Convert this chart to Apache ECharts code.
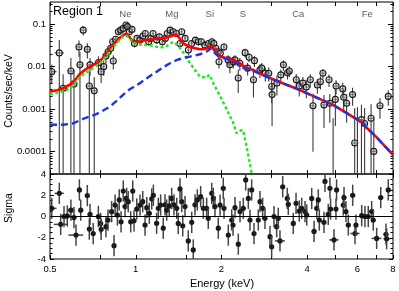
<!DOCTYPE html>
<html><head><meta charset="utf-8">
<script src="https://cdn.jsdelivr.net/npm/echarts@6/dist/echarts.min.js"></script>
<style>html,body{margin:0;padding:0;background:#fff}#c{width:399px;height:291px}</style>
</head><body><div id="c"></div>
<script>
// ---------- data ----------
// spectrum points: [energy keV, half bin width keV, counts/sec/keV, 1-sigma error]
const spectrumPoints = [
[0.507,0.02,0.0076,0.0035],[0.539,0.02,0.021,0.021],[0.556,0.02,0.0031,0.0035],[0.592,0.015,0.0079,0.008],
[0.607,0.015,0.0039,0.0045],[0.632,0.015,0.029,0.012],[0.637,0.015,0.011,0.011],[0.654,0.015,0.072,0.018],
[0.676,0.012,0.0255,0.01],[0.687,0.012,0.0035,0.004],[0.691,0.012,0.011,0.005],[0.715,0.012,0.0027,0.003],
[0.740,0.012,0.0124,0.005],[0.756,0.01,0.0076,0.0035],[0.772,0.01,0.010,0.004],[0.786,0.01,0.0178,0.006],
[0.800,0.01,0.0224,0.006],[0.817,0.01,0.027,0.007],[0.830,0.01,0.0385,0.008],[0.834,0.01,0.0136,0.005],
[0.850,0.01,0.044,0.008],[0.869,0.01,0.066,0.01],[0.885,0.01,0.072,0.01],[0.904,0.01,0.079,0.011],
[0.924,0.01,0.095,0.012],[0.935,0.01,0.087,0.012],[0.950,0.01,0.066,0.01],[0.970,0.01,0.075,0.011],
[0.990,0.01,0.035,0.007],[1.010,0.01,0.046,0.008],[1.035,0.01,0.042,0.007],[1.060,0.01,0.052,0.008],
[1.080,0.01,0.060,0.009],[1.110,0.01,0.0385,0.007],[1.130,0.01,0.046,0.008],[1.150,0.01,0.060,0.009],
[1.184,0.012,0.042,0.007],[1.210,0.012,0.050,0.008],[1.240,0.012,0.0385,0.007],[1.270,0.012,0.046,0.008],
[1.290,0.012,0.060,0.009],[1.320,0.012,0.072,0.01],[1.355,0.012,0.066,0.01],[1.390,0.012,0.060,0.009],
[1.430,0.012,0.035,0.007],[1.450,0.012,0.066,0.01],[1.490,0.014,0.046,0.008],[1.530,0.014,0.0246,0.006],
[1.570,0.014,0.035,0.007],[1.620,0.014,0.042,0.007],[1.660,0.014,0.0385,0.007],[1.700,0.015,0.0385,0.007],
[1.750,0.015,0.032,0.006],[1.800,0.015,0.035,0.006],[1.850,0.015,0.0385,0.007],[1.880,0.015,0.035,0.006],
[1.910,0.016,0.027,0.005],[1.950,0.016,0.0224,0.005],[1.960,0.016,0.013,0.004],[1.980,0.016,0.0206,0.005],
[2.040,0.02,0.029,0.006],[2.110,0.02,0.0144,0.004],[2.140,0.02,0.011,0.004],[2.200,0.02,0.013,0.004],
[2.230,0.02,0.0144,0.004],[2.290,0.025,0.0054,0.003],[2.320,0.025,0.012,0.004],[2.420,0.025,0.0213,0.005],
[2.470,0.025,0.0092,0.003],[2.500,0.025,0.0166,0.004],[2.590,0.03,0.0049,0.003],[2.610,0.03,0.0138,0.004],
[2.730,0.03,0.0084,0.003],[2.770,0.03,0.0092,0.003],[2.850,0.03,0.007,0.0025],[2.930,0.04,0.007,0.0025],
[3.000,0.04,0.0034,0.002],[3.010,0.04,0.0022,0.0018],[3.130,0.04,0.0041,0.002],[3.230,0.05,0.0064,0.0022],
[3.300,0.05,0.011,0.003],[3.410,0.05,0.0072,0.0022],[3.460,0.05,0.0079,0.0023],[3.660,0.05,0.0049,0.0018],
[3.750,0.05,0.0035,0.0015],[3.860,0.05,0.0041,0.0016],[3.970,0.05,0.0033,0.0015],[4.100,0.06,0.0049,0.0017],
[4.190,0.06,0.0012,0.0011],[4.340,0.06,0.0037,0.0014],[4.450,0.06,0.0044,0.0015],[4.540,0.07,0.007,0.0018],
[4.580,0.07,0.00126,0.0009],[4.770,0.07,0.0049,0.0016],[4.800,0.07,0.00138,0.0009],[4.930,0.08,0.00001,0.0006],
[5.020,0.08,0.0017,0.0013],[5.050,0.08,0.0035,0.0013],[5.330,0.08,0.003,0.0012],[5.370,0.08,0.0019,0.001],
[5.500,0.1,0.00138,0.0009],[5.770,0.1,0.0022,0.001],[5.870,0.1,0.00016,0.0009],[6.000,0.1,0.00001,0.0011],
[6.200,0.1,0.00057,0.0007],[6.360,0.1,0.00046,0.0006],[6.700,0.12,0.00061,0.0007],[6.850,0.12,0.000102,0.0005],
[7.200,0.15,0.0012,0.0006],[7.700,0.15,0.002,0.0008]
];
// residuals: [energy keV, half bin width keV, sigma]
const residualPoints = [
[0.507,0.02,0.77],[0.539,0.02,2.18],[0.545,0.029,-0.74],[0.560,0.015,0.0],[0.575,0.015,0.05],[0.592,0.015,0.6],
[0.607,0.012,-0.1],[0.617,0.037,-1.75],[0.634,0.012,2.5],[0.641,0.012,0.6],[0.676,0.012,1.97],[0.687,0.012,-1.18],
[0.691,0.012,0.2],[0.709,0.012,-1.6],[0.739,0.012,0.0],[0.753,0.01,-0.65],[0.756,0.01,-1.2],[0.786,0.01,-0.96],
[0.799,0.01,-0.33],[0.823,0.01,0.45],[0.839,0.01,-2.75],[0.846,0.01,1.08],[0.862,0.01,0.14],[0.875,0.01,1.56],
[0.888,0.01,-0.5],[0.904,0.01,2.4],[0.917,0.01,0.93],[0.929,0.01,1.7],[0.941,0.01,1.4],[0.960,0.01,-0.5],
[0.976,0.01,2.4],[0.986,0.01,-0.4],[1.008,0.01,0.7],[1.035,0.01,1.08],[1.058,0.01,1.4],[1.078,0.01,-0.8],
[1.093,0.01,0.83],[1.116,0.01,0.3],[1.138,0.01,1.65],[1.153,0.01,2.0],[1.184,0.012,-0.64],[1.200,0.012,0.77],
[1.223,0.012,1.08],[1.249,0.012,-1.1],[1.267,0.012,1.1],[1.284,0.012,0.6],[1.311,0.012,1.0],[1.337,0.012,1.7],
[1.362,0.012,1.1],[1.393,0.012,0.77],[1.410,0.012,-0.65],[1.430,0.012,2.6],[1.450,0.012,1.4],[1.462,0.012,-0.87],
[1.489,0.014,0.93],[1.529,0.014,-2.3],[1.572,0.014,-0.55],[1.592,0.014,-3.15],[1.614,0.014,1.1],[1.645,0.014,1.56],
[1.690,0.014,1.87],[1.727,0.015,0.77],[1.774,0.015,0.77],[1.797,0.015,-0.17],[1.848,0.015,2.18],[1.872,0.015,1.7],
[1.897,0.015,0.93],[1.949,0.016,-1.1],[1.977,0.016,1.08],[2.029,0.02,2.66],[2.041,0.02,0.77],[2.113,0.02,-1.75],
[2.172,0.02,-0.33],[2.195,0.02,-0.8],[2.231,0.02,0.83],[2.291,0.025,-2.6],[2.323,0.025,0.46],[2.386,0.025,0.77],
[2.432,0.025,3.44],[2.484,0.025,1.7],[2.518,0.025,-0.33],[2.553,0.025,2.5],[2.601,0.03,-1.6],[2.693,0.03,-0.33],
[2.730,0.03,1.4],[2.789,0.03,0.77],[2.842,0.03,-0.17],[2.960,0.04,-1.9],[3.000,0.04,-2.85],[3.057,0.04,0.0],
[3.124,0.04,-0.96],[3.165,0.04,-0.17],[3.209,0.13,-2.3],[3.280,0.05,2.8],[3.404,0.05,1.7],[3.432,0.05,1.15],
[3.573,0.05,-0.65],[3.653,0.05,1.24],[3.750,0.05,0.52],[3.824,0.05,0.77],[3.929,0.05,0.46],[3.983,0.05,0.14],
[4.147,0.06,1.7],[4.226,0.08,-1.4],[4.318,0.06,0.77],[4.374,0.06,1.56],[4.410,0.06,-0.33],[4.579,0.07,-0.55],
[4.617,0.07,3.3],[4.740,0.07,0.2],[4.806,0.07,2.66],[4.830,0.07,0.7],[4.965,0.19,-2.2],[5.045,0.08,0.7],
[5.070,0.08,2.5],[5.352,0.08,1.08],[5.385,0.08,1.78],[5.470,0.08,0.46],[5.574,0.1,-0.8],[5.776,0.1,2.0],
[5.885,0.22,-1.6],[5.930,0.1,-0.8],[6.212,0.1,0.08],[6.378,0.1,0.0],[6.550,0.1,0.0],[6.733,0.12,0.46],
[6.820,0.12,-0.33],[7.010,0.28,-2.06],[7.245,0.15,1.78],[7.560,0.15,-1.67],[7.600,0.2,-2.1],[7.700,0.15,2.5]
];
// model curves: [energy keV, counts/sec/keV]
const totalModel = [
[0.50,0.0026],[0.53,0.0028],[0.556,0.0031],[0.588,0.0038],[0.615,0.005],[0.637,0.0068],[0.665,0.0085],[0.691,0.010],
[0.72,0.0118],[0.749,0.0135],[0.78,0.018],[0.80,0.023],[0.82,0.030],[0.85,0.038],[0.87,0.045],[0.90,0.053],
[0.922,0.060],[0.94,0.055],[0.96,0.045],[0.98,0.0395],[1.00,0.038],[1.035,0.0385],[1.08,0.042],[1.12,0.044],
[1.17,0.045],[1.22,0.046],[1.27,0.048],[1.32,0.051],[1.36,0.055],[1.39,0.056],[1.42,0.048],[1.45,0.038],
[1.48,0.034],[1.55,0.029],[1.62,0.027],[1.68,0.0255],[1.75,0.026],[1.82,0.029],[1.86,0.030],[1.90,0.023],
[1.95,0.019],[2.0,0.017],[2.1,0.0155],[2.2,0.0142],[2.3,0.0125],[2.38,0.0105],[2.45,0.0094],[2.6,0.0082],
[2.88,0.0058],[3.0,0.0052],[3.3,0.0040],[3.6,0.0032],[3.77,0.0028],[4.0,0.00235],[4.5,0.00165],[4.93,0.00126],
[5.5,0.00081],[6.0,0.00057],[6.28,0.00047],[6.45,0.00037],[6.64,0.00031],[7.0,0.00022],[7.5,0.000134],[8.0,0.000085]
];
const thermalModel = [
[0.50,0.0022],[0.572,0.0028],[0.60,0.0035],[0.637,0.0058],[0.70,0.0088],[0.749,0.012],[0.79,0.018],[0.834,0.029],
[0.87,0.040],[0.90,0.050],[0.917,0.055],[0.94,0.050],[0.98,0.036],[1.035,0.033],[1.093,0.032],[1.15,0.031],
[1.217,0.028],[1.28,0.030],[1.355,0.0385],[1.40,0.032],[1.45,0.0246],[1.55,0.012],[1.68,0.0058],[1.76,0.0055],
[1.82,0.0064],[1.87,0.0041],[1.98,0.0020],[2.09,0.00096],[2.2,0.00047],[2.26,0.00027],[2.36,0.00033],[2.39,0.00028],
[2.45,0.000133],[2.55,0.000032],[2.62,0.000015]
];
const hardModel = [
[0.50,0.00043],[0.556,0.00043],[0.60,0.00046],[0.664,0.00062],[0.719,0.00074],[0.75,0.00085],[0.812,0.00115],
[0.86,0.0016],[0.904,0.0022],[0.95,0.0029],[1.035,0.0041],[1.10,0.0055],[1.184,0.0076],[1.25,0.0097],[1.319,0.012],
[1.40,0.0145],[1.468,0.0158],[1.55,0.0172],[1.68,0.0195],[1.78,0.023],[1.84,0.027],[1.88,0.022],[1.95,0.0175],
[2.1,0.0148],[2.2,0.013],[2.3,0.0115],[2.36,0.0096],[2.45,0.0088],[2.6,0.0078],[2.88,0.0058],[3.0,0.0052],
[3.3,0.0040],[3.6,0.0032],[3.77,0.0028],[4.0,0.00235],[4.5,0.00165],[4.93,0.00126],[5.5,0.00081],[6.0,0.00057],
[6.28,0.00047],[6.45,0.00036],[6.64,0.00031],[7.0,0.00022],[7.5,0.000134],[8.0,0.000085]
];
const elementNames = ['Ne','Mg','Si','S','Ca','Fe'];
const elementEnergies = [0.92,1.34,1.82,2.38,3.72,6.5];
// axis ticks / labels
const xTickValues = [0.5,0.75,1,1.5,2,3,4,5,6,7,8];
const xLabelValues = [0.5,1,2,4,6,8];
const yMajorValues = [0.0001,0.001,0.01,0.1];
const yTickLabels = ['0.0001','0.001','0.01','0.1'];
const sigmaLabels = [-4,-2,0,2,4];

// ---------- layout constants ----------
const X_MIN = 0.5, X_MAX = 8, Y_MIN = 3.0e-5, Y_MAX = 0.33;
const FONT = "'Liberation Sans', Arial, sans-serif";
const yMinorValues = [];
for (let d = -5; d <= -1; d++) for (let k = 2; k <= 9; k++) {
  const v = k * Math.pow(10, d);
  if (v > Y_MIN && v < Y_MAX) yMinorValues.push(v);
}

function decoX(grid, pos, labels) {
  return {
    gridIndex: grid, type: 'value', min: Math.log2(X_MIN), max: Math.log2(X_MAX), position: pos, silent: true,
    axisLine: {show: false, onZero: false}, splitLine: {show: false},
    axisTick: {show: true, inside: true, length: 4, lineStyle: {color: '#000', width: 1},
      customValues: xTickValues.map(Math.log2)},
    axisLabel: labels ? {show: true, customValues: xLabelValues.map(Math.log2),
      formatter: v => String(+Math.pow(2, v).toFixed(2)), fontSize: 9.5, color: '#000', margin: 5, fontFamily: FONT}
      : {show: false}
  };
}
function decoYLog(pos, values, len, labels) {
  return {
    gridIndex: 0, type: 'value', min: Math.log10(Y_MIN), max: Math.log10(Y_MAX), position: pos, silent: true,
    axisLine: {show: false, onZero: false}, splitLine: {show: false},
    axisTick: {show: true, inside: true, length: len, lineStyle: {color: '#000', width: 1},
      customValues: values.map(Math.log10)},
    axisLabel: labels ? {show: true, customValues: yMajorValues.map(Math.log10),
      formatter: v => yTickLabels[yMajorValues.findIndex(t => Math.abs(Math.log10(t) - v) < 1e-6)],
      fontSize: 9.5, color: '#000', margin: 4, fontFamily: FONT} : {show: false}
  };
}
function sigmaAxis(pos, labels) {
  return {
    gridIndex: 1, type: 'value', min: -4, max: 4, interval: 2, position: pos, silent: true,
    axisLine: {show: false, onZero: false}, splitLine: {show: false},
    axisTick: {show: true, inside: true, length: 4, lineStyle: {color: '#000'}},
    minorTick: {show: true, splitNumber: 4, length: 2.5, lineStyle: {color: '#000'}},
    axisLabel: labels ? {show: true, fontSize: 9.5, color: '#000', margin: 4, fontFamily: FONT,
      customValues: sigmaLabels} : {show: false}
  };
}

function renderSpectrum(params, api) {
  const E = api.value(0), hw = api.value(1), v = api.value(2), err = api.value(3);
  const floor = Y_MIN / 10;
  const yv = Math.max(v, floor);
  const c = api.coord([E, yv]);
  const t = api.coord([E, v + err]);
  const b = api.coord([E, Math.max(v - err, floor)]);
  const l = api.coord([E - hw, yv]);
  const r = api.coord([E + hw, yv]);
  const st = {stroke: '#3a3a3a', lineWidth: 1.1};
  const ch = [
    {type: 'line', shape: {x1: c[0], y1: t[1], x2: c[0], y2: b[1]}, style: st},
    {type: 'line', shape: {x1: l[0], y1: c[1], x2: r[0], y2: c[1]}, style: st}
  ];
  if (v >= Y_MIN) ch.push({type: 'circle', shape: {cx: c[0], cy: c[1], r: 3},
    style: {fill: 'rgba(200,200,200,0.35)', stroke: '#1a1a1a', lineWidth: 1.1}});
  return {type: 'group', children: ch};
}
function renderResidual(params, api) {
  const E = api.value(0), hw = api.value(1), s = api.value(2);
  const c = api.coord([E, s]), t = api.coord([E, s + 1]), b = api.coord([E, s - 1]);
  const l = api.coord([E - hw, s]), r = api.coord([E + hw, s]);
  const st = {stroke: '#444', lineWidth: 1.5};
  return {type: 'group', children: [
    {type: 'line', shape: {x1: c[0], y1: t[1], x2: c[0], y2: b[1]}, style: st},
    {type: 'line', shape: {x1: l[0], y1: c[1], x2: r[0], y2: c[1]}, style: st},
    {type: 'circle', shape: {cx: c[0], cy: c[1], r: 2.6}, style: {fill: '#1a1a1a'}}
  ]};
}

const chart = echarts.init(document.getElementById('c'), null, {renderer: 'canvas'});
chart.setOption({
  animation: false,
  backgroundColor: '#fff',
  grid: [
    {left: 50, top: 2, width: 343, height: 172, show: true, borderColor: '#000', borderWidth: 1, backgroundColor: 'transparent'},
    {left: 50, top: 174, width: 343, height: 85, show: true, borderColor: '#000', borderWidth: 1, backgroundColor: 'transparent'}
  ],
  xAxis: [
    {gridIndex: 0, type: 'log', logBase: 2, min: X_MIN, max: X_MAX, show: false},
    {gridIndex: 1, type: 'log', logBase: 2, min: X_MIN, max: X_MAX, show: false},
    decoX(0, 'bottom', false), decoX(0, 'top', false),
    decoX(1, 'bottom', true), decoX(1, 'top', false)
  ],
  yAxis: [
    {gridIndex: 0, type: 'log', logBase: 10, min: Y_MIN, max: Y_MAX, show: false},
    sigmaAxis('left', true),
    decoYLog('left', yMajorValues, 5, true), decoYLog('left', yMinorValues, 2.5, false),
    decoYLog('right', yMajorValues, 5, false), decoYLog('right', yMinorValues, 2.5, false),
    sigmaAxis('right', false)
  ],
  series: [
    {type: 'custom', xAxisIndex: 0, yAxisIndex: 0, clip: true, z: 2, silent: true,
      renderItem: renderSpectrum, encode: {x: 0, y: 2}, data: spectrumPoints},
    {type: 'line', xAxisIndex: 0, yAxisIndex: 0, clip: true, z: 3, showSymbol: false, silent: true,
      lineStyle: {color: '#ff0000', width: 2.6}, data: totalModel},
    {type: 'line', xAxisIndex: 0, yAxisIndex: 0, clip: true, z: 4, showSymbol: false, silent: true,
      lineStyle: {color: '#1fe81f', width: 2.4, type: [3, 2.5]}, data: thermalModel},
    {type: 'line', xAxisIndex: 0, yAxisIndex: 0, clip: true, z: 5, showSymbol: false, silent: true,
      lineStyle: {color: '#1a35e6', width: 2.4, type: [7, 4]}, data: hardModel},
    {type: 'scatter', xAxisIndex: 0, yAxisIndex: 0, z: 6, silent: true, symbolSize: 0,
      label: {show: true, position: 'inside', formatter: p => p.name, fontSize: 9.5, color: '#333', fontFamily: FONT},
      data: elementNames.map((n, i) => ({name: n, value: [elementEnergies[i], 0.17]}))},
    {type: 'custom', xAxisIndex: 1, yAxisIndex: 1, clip: true, z: 2, silent: true,
      renderItem: renderResidual, encode: {x: 0, y: 2}, data: residualPoints,
      markLine: {silent: true, symbol: 'none', label: {show: false}, animation: false,
        lineStyle: {color: '#000', width: 1.2, type: 'solid'}, data: [{yAxis: 0}]}}
  ],
  graphic: [
    {type: 'text', left: 53, top: 5, style: {text: 'Region 1', fontSize: 12.5, fill: '#000', fontFamily: FONT}},
    {type: 'text', x: 9, y: 91, rotation: Math.PI / 2,
      style: {text: 'Counts/sec/keV', fontSize: 10.5, fill: '#000', fontFamily: FONT, align: 'center', verticalAlign: 'middle'}},
    {type: 'text', x: 9, y: 208, rotation: Math.PI / 2,
      style: {text: 'Sigma', fontSize: 10.5, fill: '#000', fontFamily: FONT, align: 'center', verticalAlign: 'middle'}},
    {type: 'text', x: 222, y: 284,
      style: {text: 'Energy (keV)', fontSize: 11, fill: '#000', fontFamily: FONT, align: 'center', verticalAlign: 'middle'}}
  ]
});
</script></body></html>
